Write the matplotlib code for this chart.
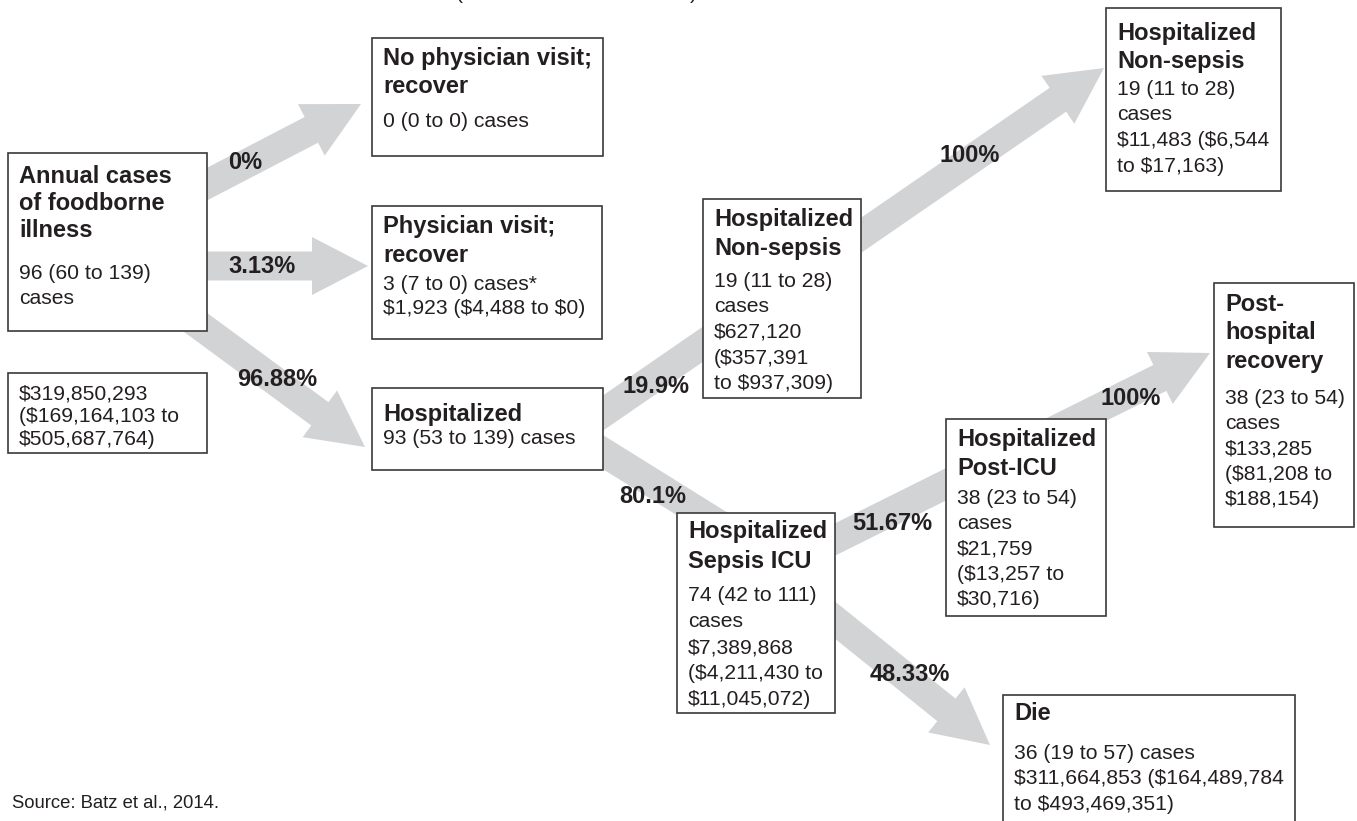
import matplotlib
matplotlib.use("Agg")
import matplotlib.pyplot as plt
from matplotlib.patches import Rectangle, FancyArrow

plt.rcParams['font.family'] = ['Liberation Sans', 'DejaVu Sans']

# ---------------- data ----------------
node_titles = [
    ["Annual cases", "of foodborne", "illness"],
    [],
    ["No physician visit;", "recover"],
    ["Physician visit;", "recover"],
    ["Hospitalized"],
    ["Hospitalized", "Non-sepsis"],
    ["Hospitalized", "Non-sepsis"],
    ["Post-", "hospital", "recovery"],
    ["Hospitalized", "Post-ICU"],
    ["Hospitalized", "Sepsis ICU"],
    ["Die"],
]
node_bodies = [
    ["96 (60 to 139)", "cases"],
    ["$319,850,293", "($169,164,103 to", "$505,687,764)"],
    ["0 (0 to 0) cases"],
    ["3 (7 to 0) cases*", "$1,923 ($4,488 to $0)"],
    ["93 (53 to 139) cases"],
    ["19 (11 to 28)", "cases", "$627,120", "($357,391", "to $937,309)"],
    ["19 (11 to 28)", "cases", "$11,483 ($6,544", "to $17,163)"],
    ["38 (23 to 54)", "cases", "$133,285", "($81,208 to", "$188,154)"],
    ["38 (23 to 54)", "cases", "$21,759", "($13,257 to", "$30,716)"],
    ["74 (42 to 111)", "cases", "$7,389,868", "($4,211,430 to", "$11,045,072)"],
    ["36 (19 to 57) cases", "$311,664,853 ($164,489,784", "to $493,469,351)"],
]
pct_labels = ["0%", "3.13%", "96.88%", "19.9%", "80.1%", "100%", "51.67%", "100%", "48.33%"]
source_note = "Source: Batz et al., 2014."
clipped_title = ["(", ")"]

# ---------------- layout (pixels) ----------------
W, H = 1357, 821
box_rect = [
    (8, 153, 207, 331), (8, 373, 207, 453), (372, 38, 603, 156), (372, 206, 602, 339),
    (372, 388, 603, 470), (703, 199, 861, 398), (1106, 8, 1281, 191), (1214, 283, 1354, 527),
    (946, 419, 1106, 616), (677, 513, 835, 713), (1003, 695, 1295, 840),
]
# first title-line centre, title spacing, first body-line centre, body spacing
text_pos = [
    (175, 27, 272, 25), (0, 0, 392, 23), (57, 28, 120, 25), (225, 29, 283, 24),
    (413, 0, 437, 25), (218, 29, 280, 25.5), (32, 28, 88, 25.5), (303, 28.5, 397, 25.3),
    (438, 29, 497, 25.2), (530, 30, 594, 26), (712, 0, 752, 25.5),
]
arrows = [
    (190, 193, 361, 104, True), (190, 266, 368, 266, True), (180, 311, 365, 447, True),
    (590, 422, 1104, 68, True), (590, 444, 720, 525, False), (820, 547, 1210, 353, True),
    (815, 604, 990, 745, True),
]
pct_pos = [(245, 161), (262, 265), (277, 378), (656, 385), (653, 495), (970, 154),
           (892, 522), (1131, 397), (910, 673)]

TXT = "#231f20"
ARW = "#d1d3d4"
BOLD_FS = 17.0
BODY_FS = 15.2

fig = plt.figure(figsize=(W / 100, H / 100), dpi=100)
ax = fig.add_axes([0, 0, 1, 1])
ax.set_xlim(0, W)
ax.set_ylim(H, 0)
ax.axis("off")

for x0, y0, x1, y1, head in arrows:
    ax.add_patch(FancyArrow(x0, y0, x1 - x0, y1 - y0, width=29,
                            head_width=58 if head else 29,
                            head_length=56 if head else 0,
                            length_includes_head=True, color=ARW, lw=0, zorder=1))

for (x0, y0, x1, y1), titles, bodies, (ty, tdy, by, bdy) in zip(box_rect, node_titles, node_bodies, text_pos):
    ax.add_patch(Rectangle((x0, y0), x1 - x0, y1 - y0, facecolor="white",
                           edgecolor="#3a3a3a", lw=1.2, zorder=2))
    for i, t in enumerate(titles):
        ax.text(x0 + 11, ty + i * tdy + 8, t, fontsize=BOLD_FS, fontweight="bold",
                color=TXT, va="baseline", ha="left", zorder=3, parse_math=False)
    for i, t in enumerate(bodies):
        ax.text(x0 + 11, by + i * bdy + 7, t, fontsize=BODY_FS,
                color=TXT, va="baseline", ha="left", zorder=3, parse_math=False)

for lab, (px, py) in zip(pct_labels, pct_pos):
    ax.text(px, py + 8, lab, fontsize=BOLD_FS, fontweight="bold", color=TXT,
            ha="center", va="baseline", zorder=3, parse_math=False)

ax.text(12, 807, source_note, fontsize=13.3, color=TXT, ha="left", va="baseline",
        parse_math=False)
for ch, px in zip(clipped_title, [459, 693]):
    ax.text(px, -1, ch, fontsize=BODY_FS, color=TXT, ha="center", va="baseline",
            parse_math=False)

fig.savefig("out.png", dpi=100)
